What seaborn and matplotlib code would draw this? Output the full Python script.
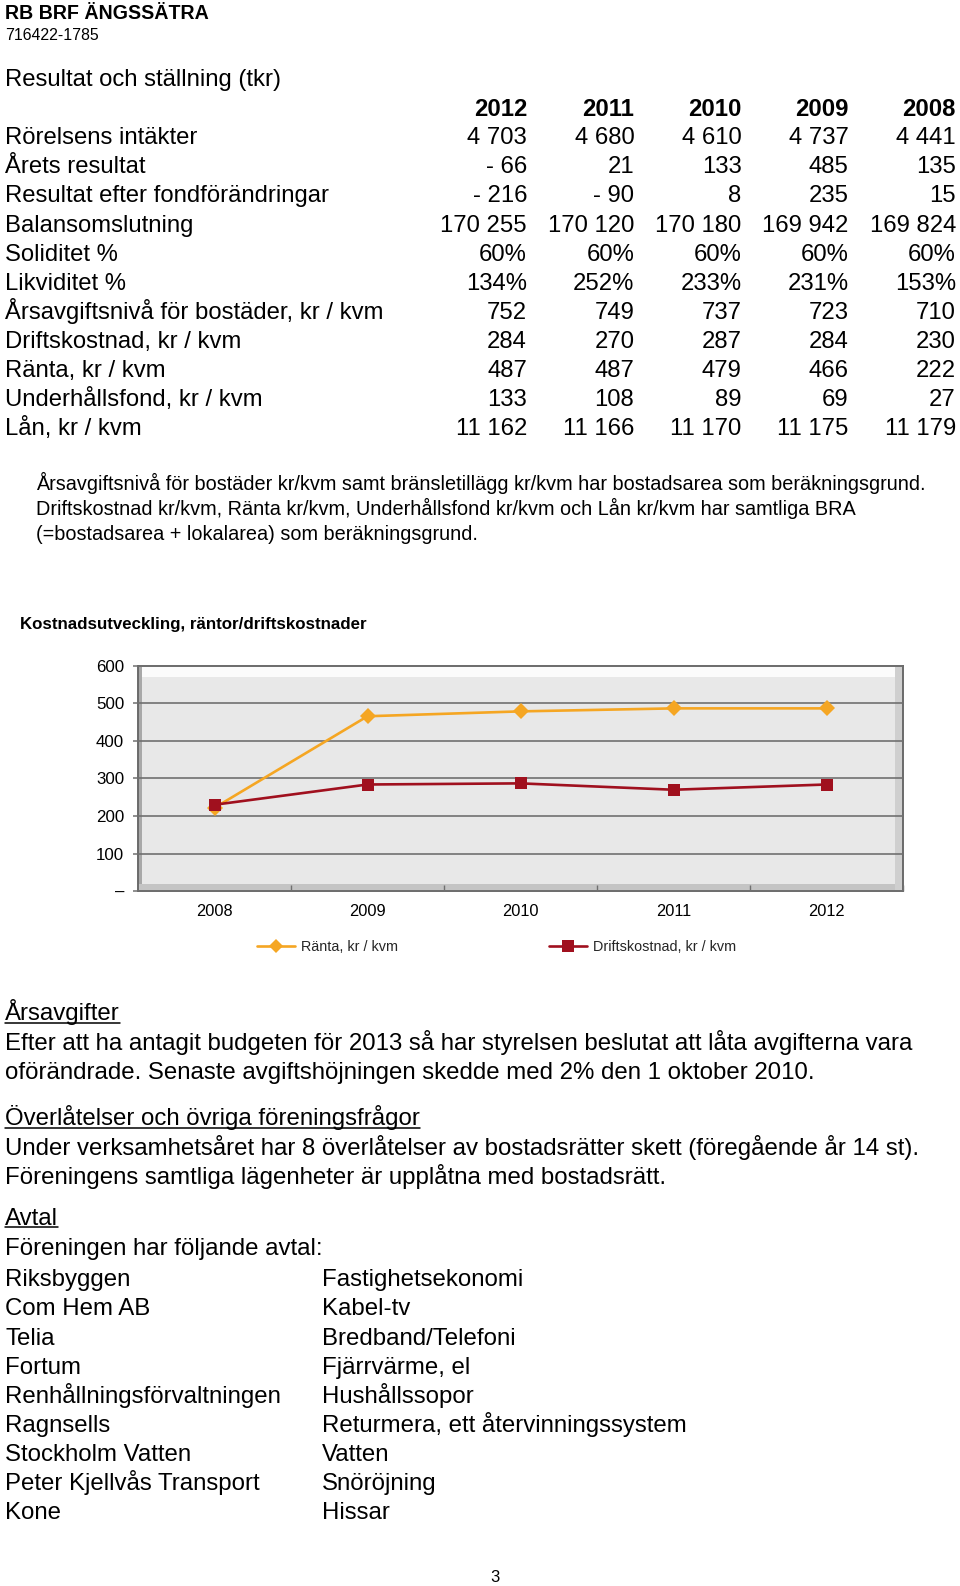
import numpy as np
import pandas as pd
import matplotlib
matplotlib.use("Agg")
import matplotlib.pyplot as plt
from matplotlib.lines import Line2D
from matplotlib.patches import Rectangle
import seaborn as sns

# ---------------- data ----------------
company_name = "RB BRF ÄNGSSÄTRA"
org_number = "716422-1785"
table_title = "Resultat och ställning (tkr)"
table_years = ["2012", "2011", "2010", "2009", "2008"]
row_labels = [
    "Rörelsens intäkter",
    "Årets resultat",
    "Resultat efter fondförändringar",
    "Balansomslutning",
    "Soliditet %",
    "Likviditet %",
    "Årsavgiftsnivå för bostäder, kr / kvm",
    "Driftskostnad, kr / kvm",
    "Ränta, kr / kvm",
    "Underhållsfond, kr / kvm",
    "Lån, kr / kvm",
]
row_intakter = ["4 703", "4 680", "4 610", "4 737", "4 441"]
row_resultat = ["- 66", "21", "133", "485", "135"]
row_efter_fond = ["- 216", "- 90", "8", "235", "15"]
row_balans = ["170 255", "170 120", "170 180", "169 942", "169 824"]
row_soliditet = ["60%", "60%", "60%", "60%", "60%"]
row_likviditet = ["134%", "252%", "233%", "231%", "153%"]
row_arsavgift = ["752", "749", "737", "723", "710"]
row_drift = ["284", "270", "287", "284", "230"]
row_ranta = ["487", "487", "479", "466", "222"]
row_underhall = ["133", "108", "89", "69", "27"]
row_lan = ["11 162", "11 166", "11 170", "11 175", "11 179"]
table_rows = [row_intakter, row_resultat, row_efter_fond, row_balans, row_soliditet,
              row_likviditet, row_arsavgift, row_drift, row_ranta, row_underhall, row_lan]

footnote_lines = [
    "Årsavgiftsnivå för bostäder kr/kvm samt bränsletillägg kr/kvm har bostadsarea som beräkningsgrund.",
    "Driftskostnad kr/kvm, Ränta kr/kvm, Underhållsfond kr/kvm och Lån kr/kvm har samtliga BRA",
    "(=bostadsarea + lokalarea) som beräkningsgrund.",
]

chart_title = "Kostnadsutveckling, räntor/driftskostnader"
chart_years = ["2008", "2009", "2010", "2011", "2012"]
ranta_values = [222, 466, 479, 487, 487]
drift_values = [230, 284, 287, 270, 284]
series_names = ["Ränta, kr / kvm", "Driftskostnad, kr / kvm"]
y_tick_values = [0, 100, 200, 300, 400, 500, 600]
y_tick_labels = ["–", "100", "200", "300", "400", "500", "600"]

sec1_heading = "Årsavgifter"
sec1_lines = [
    "Efter att ha antagit budgeten för 2013 så har styrelsen beslutat att låta avgifterna vara",
    "oförändrade. Senaste avgiftshöjningen skedde med 2% den 1 oktober 2010.",
]
sec2_heading = "Överlåtelser och övriga föreningsfrågor"
sec2_lines = [
    "Under verksamhetsåret har 8 överlåtelser av bostadsrätter skett (föregående år 14 st).",
    "Föreningens samtliga lägenheter är upplåtna med bostadsrätt.",
]
sec3_heading = "Avtal"
sec3_intro = "Föreningen har följande avtal:"
avtal_parties = ["Riksbyggen", "Com Hem AB", "Telia", "Fortum", "Renhållningsförvaltningen",
                 "Ragnsells", "Stockholm Vatten", "Peter Kjellvås Transport", "Kone"]
avtal_services = ["Fastighetsekonomi", "Kabel-tv", "Bredband/Telefoni", "Fjärrvärme, el",
                  "Hushållssopor", "Returmera, ett återvinningssystem", "Vatten", "Snöröjning", "Hissar"]
page_number = "3"

# ---------------- figure ----------------
sns.set_theme(style="white")
plt.rcParams["font.family"] = ["Liberation Sans", "DejaVu Sans"]

W, H = 960, 1586
fig = plt.figure(figsize=(W / 100, H / 100), dpi=100)
fig.patch.set_facecolor("white")

S = 960 / 949.0  # shrunk -> full


def T(x, y, s, size, weight="normal", ha="left", color="black", underline=False):
    """x, y: shrunk-reference coords of the text's cap-height centre."""
    ybase = y * S + 0.358 * size * 100 / 72
    t = fig.text(x * S / W, 1 - ybase / H, s, fontsize=size, fontweight=weight,
                 ha=ha, va="baseline", color=color)
    if underline:
        fig.canvas.draw()
        bb = t.get_window_extent(renderer=fig.canvas.get_renderer())
        yy = H - ybase - 2.5
        fig.add_artist(Line2D([bb.x0 / W, bb.x1 / W], [yy / H, yy / H],
                              transform=fig.transFigure, color=color, lw=1.1))
    return t


BODY = 17.2
BODY2 = 17.3
# header
T(5, 12, company_name, 14.1, weight="bold")
T(5, 34, org_number, 11.4)
T(5, 77, table_title, BODY)

# table
col_x = [521, 627, 733, 839, 945]
for cx, yr in zip(col_x, table_years):
    T(cx, 106, yr, BODY, weight="bold", ha="right")
row_y0, row_dy = 134.3, 28.7
for i, (lab, vals) in enumerate(zip(row_labels, table_rows)):
    y = row_y0 + i * row_dy
    T(5, y, lab, BODY)
    for cx, v in zip(col_x, vals):
        T(cx, y, v, BODY, ha="right")

# footnote
for i, line in enumerate(footnote_lines):
    T(36, 477 + i * 25, line, 14.3)

# chart title
T(20, 616, chart_title, 12.2, weight="bold")

# chart axes (full-size pixel box)
left, right, top, bottom = 138, 903, 666, 891
ax = fig.add_axes([left / W, 1 - bottom / H, (right - left) / W, (bottom - top) / H])
ax.set_facecolor("#e8e8e8")

# bevel decoration of the plot area
pw, ph = right - left, bottom - top
bev = [
    (0, 1 - 11 / ph, 1, 11 / ph, "#fbfbfb"),        # top light band
    (0, 0, 4 / pw, 1, "#a8a8a8"),                  # left dark band
    (0, 0, 1, 7 / ph, "#c4c4c4"),                  # bottom band
    (1 - 8 / pw, 0, 8 / pw, 1, "#cfcfcf"),         # right band
]
for (bx, by, bw, bh, c) in bev:
    ax.add_patch(Rectangle((bx, by), bw, bh, transform=ax.transAxes, facecolor=c,
                           edgecolor="none", zorder=0.2))

df = pd.DataFrame({
    "year": chart_years * 2,
    "value": ranta_values + drift_values,
    "series": [series_names[0]] * len(chart_years) + [series_names[1]] * len(chart_years),
})
palette = {series_names[0]: "#F5A623", series_names[1]: "#A0101E"}
markers = {series_names[0]: "D", series_names[1]: "s"}
sns.lineplot(data=df, x="year", y="value", hue="series", style="series",
             markers=markers, dashes=False, palette=palette, ax=ax,
             linewidth=1.9, markersize=8.5, markeredgewidth=0, sort=False, legend=False,
             zorder=3)

ax.set_xlim(-0.5, len(chart_years) - 0.5)
ax.set_ylim(0, 600)
ax.set_yticks(y_tick_values)
ax.set_yticklabels(y_tick_labels)
ax.set_xlabel("")
ax.set_ylabel("")
ax.set_axisbelow(False)
ax.grid(axis="y", color="#707070", linewidth=1.2, zorder=1)
ax.grid(axis="x", visible=False)
for gl in ax.get_ygridlines():
    gl.set_zorder(1)
ax.tick_params(axis="y", length=3.5, width=1.1, color="#707070", direction="out",
               pad=6.5, labelsize=12.2, labelcolor="black", left=True)
ax.tick_params(axis="x", length=0, pad=9, labelsize=11.8, labelcolor="black")
ax.set_xticks(np.arange(len(chart_years)) + 0.5, minor=True)
ax.tick_params(axis="x", which="minor", length=4, color="#707070", direction="in", width=1,
               bottom=True)
for name, sp in ax.spines.items():
    sp.set_visible(True)
    sp.set_linewidth(1.4)
    sp.set_color("#6a6a6a")

# legend
handles = [
    Line2D([], [], color=palette[series_names[0]], marker="D", markersize=7, lw=1.9, markeredgewidth=0),
    Line2D([], [], color=palette[series_names[1]], marker="s", markersize=8, lw=1.9, markeredgewidth=0),
]
fig.legend(handles, series_names, loc="center", bbox_to_anchor=(491 * S / W, 1 - 936 * S / H),
           ncol=2, frameon=False, fontsize=10.4, columnspacing=10.5, handlelength=2.6,
           handletextpad=0.4)

# sections
T(5, 1000, sec1_heading, BODY2, underline=True)
for i, line in enumerate(sec1_lines):
    T(5, 1029 + i * 29, line, BODY2)
T(5, 1104, sec2_heading, BODY2, underline=True)
for i, line in enumerate(sec2_lines):
    T(5, 1133 + i * 29, line, BODY2)
T(5, 1202, sec3_heading, BODY2, underline=True)
T(5, 1232, sec3_intro, BODY2)
for i, (p, s_) in enumerate(zip(avtal_parties, avtal_services)):
    y = 1263 + i * 28.8
    T(5, y, p, BODY2)
    T(318, y, s_, BODY2)

T(485, 1558, page_number, 12)

fig.savefig("out.png", dpi=100, facecolor="white")
